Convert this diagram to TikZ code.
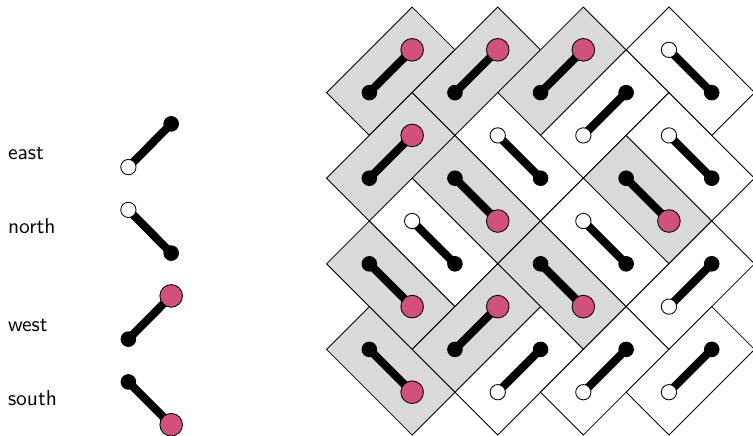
\documentclass[tikz,border=0pt]{standalone}
\usepackage{xcolor}
\usetikzlibrary{backgrounds}
\definecolor{dotpink}{HTML}{D1507D}
\definecolor{cellgray}{HTML}{D9D9D9}
\tikzset{
    cell/.style={draw, minimum width=1.98cm, minimum height=0.99cm, inner sep=0pt},
    cellon/.style={cell, fill=cellgray},
    celloff/.style={cell, fill=white},
    blackdot/.style={circle, draw, fill=black, minimum size=0.24cm, inner sep=0pt},
    whitedot/.style={circle, draw, fill=white, minimum size=0.25cm, inner sep=0pt},
    pinkdot/.style={circle, draw, fill=dotpink, minimum size=0.37cm, inner sep=0pt},
    bar/.style={line width=3.8pt},
    word/.style={anchor=base west, font=\sffamily}
}

\begin{document}
\begin{tikzpicture}[x=0.7cm, y=-0.7cm]
        \useasboundingbox (-7.63, -0.164) rectangle (9.964, 10);

        \node[word] at (-7.62, 3.57) (east) {east};
        \node[word] at (-7.62, 5.30) (north) {north};
        \node[word] at (-7.62, 7.57) (west) {west};
        \node[word] at (-7.62, 9.30) (south) {south};

        \node[whitedot] at (-4.63, 3.74) (eastw) {};
        \node[blackdot] at (-3.63, 2.73) (eastb) {};
        \node[whitedot] at (-4.63, 4.74) (northw) {};
        \node[blackdot] at (-3.63, 5.75) (northb) {};
        \node[blackdot] at (-4.63, 7.76) (westb) {};
        \node[pinkdot] at (-3.63, 6.75) (westp) {};
        \node[blackdot] at (-4.63, 8.76) (southb) {};
        \node[pinkdot] at (-3.63, 9.76) (southp) {};

        % dots
        \node[blackdot] at (1, 2) (black1) {};
        \node[pinkdot] at (2, 1) (pink1) {};
        \node[blackdot] at (3, 2) (black2) {};
        \node[pinkdot] at (4, 1) (pink2) {};
        \node[blackdot] at (5, 2) (black3) {};
        \node[pinkdot] at (6, 1) (pink3) {};
        \node[whitedot] at (8, 1) (white4) {};
        \node[blackdot] at (9, 2) (black4) {};
        \node[whitedot] at (6, 3) (white5) {};
        \node[blackdot] at (7, 2) (black5) {};
        \node[blackdot] at (1, 4) (black6) {};
        \node[pinkdot] at (2, 3) (pink6) {};
        \node[whitedot] at (4, 3) (white7) {};
        \node[blackdot] at (5, 4) (black7) {};
        \node[whitedot] at (8, 3) (white8) {};
        \node[blackdot] at (9, 4) (black8) {};
        \node[blackdot] at (3, 4) (black9) {};
        \node[pinkdot] at (4, 5) (pink9) {};
        \node[blackdot] at (7, 4) (black10) {};
        \node[pinkdot] at (8, 5) (pink10) {};
        \node[whitedot] at (2, 5) (white11) {};
        \node[blackdot] at (3, 6) (black11) {};
        \node[whitedot] at (6, 5) (white12) {};
        \node[blackdot] at (7, 6) (black12) {};
        \node[blackdot] at (1, 6) (black13) {};
        \node[pinkdot] at (2, 7) (pink13) {};
        \node[blackdot] at (5, 6) (black14) {};
        \node[pinkdot] at (6, 7) (pink14) {};
        \node[whitedot] at (8, 7) (white15) {};
        \node[blackdot] at (9, 6) (black15) {};
        \node[blackdot] at (3, 8) (black16) {};
        \node[pinkdot] at (4, 7) (pink16) {};
        \node[blackdot] at (1, 8) (black17) {};
        \node[pinkdot] at (2, 9) (pink17) {};
        \node[whitedot] at (4, 9) (white18) {};
        \node[blackdot] at (5, 8) (black18) {};
        \node[whitedot] at (6, 9) (white19) {};
        \node[blackdot] at (7, 8) (black19) {};
        \node[whitedot] at (8, 9) (white20) {};
        \node[blackdot] at (9, 8) (black20) {};

        \begin{scope}[on background layer]
        % cells
        \node[cellon, rotate=45] at (1.5, 1.5) (cell1) {};
        \node[cellon, rotate=45] at (3.5, 1.5) (cell2) {};
        \node[cellon, rotate=45] at (5.5, 1.5) (cell3) {};
        \node[celloff, rotate=-45] at (8.5, 1.5) (cell4) {};
        \node[celloff, rotate=45] at (6.5, 2.5) (cell5) {};
        \node[cellon, rotate=45] at (1.5, 3.5) (cell6) {};
        \node[celloff, rotate=-45] at (4.5, 3.5) (cell7) {};
        \node[celloff, rotate=-45] at (8.5, 3.5) (cell8) {};
        \node[cellon, rotate=-45] at (3.5, 4.5) (cell9) {};
        \node[cellon, rotate=-45] at (7.5, 4.5) (cell10) {};
        \node[celloff, rotate=-45] at (2.5, 5.5) (cell11) {};
        \node[celloff, rotate=-45] at (6.5, 5.5) (cell12) {};
        \node[cellon, rotate=-45] at (1.5, 6.5) (cell13) {};
        \node[cellon, rotate=-45] at (5.5, 6.5) (cell14) {};
        \node[celloff, rotate=45] at (8.5, 6.5) (cell15) {};
        \node[cellon, rotate=45] at (3.5, 7.5) (cell16) {};
        \node[cellon, rotate=-45] at (1.5, 8.5) (cell17) {};
        \node[celloff, rotate=45] at (4.5, 8.5) (cell18) {};
        \node[celloff, rotate=45] at (6.5, 8.5) (cell19) {};
        \node[celloff, rotate=45] at (8.5, 8.5) (cell20) {};

        % bars
        \draw[bar] (eastw.center) -- (eastb.center);
        \draw[bar] (northw.center) -- (northb.center);
        \draw[bar] (westb.center) -- (westp.center);
        \draw[bar] (southb.center) -- (southp.center);

        \draw[bar] (black1.center) -- (pink1.center);
        \draw[bar] (black2.center) -- (pink2.center);
        \draw[bar] (black3.center) -- (pink3.center);
        \draw[bar] (white4.center) -- (black4.center);
        \draw[bar] (white5.center) -- (black5.center);
        \draw[bar] (black6.center) -- (pink6.center);
        \draw[bar] (white7.center) -- (black7.center);
        \draw[bar] (white8.center) -- (black8.center);
        \draw[bar] (black9.center) -- (pink9.center);
        \draw[bar] (black10.center) -- (pink10.center);
        \draw[bar] (white11.center) -- (black11.center);
        \draw[bar] (white12.center) -- (black12.center);
        \draw[bar] (black13.center) -- (pink13.center);
        \draw[bar] (black14.center) -- (pink14.center);
        \draw[bar] (white15.center) -- (black15.center);
        \draw[bar] (black16.center) -- (pink16.center);
        \draw[bar] (black17.center) -- (pink17.center);
        \draw[bar] (white18.center) -- (black18.center);
        \draw[bar] (white19.center) -- (black19.center);
        \draw[bar] (white20.center) -- (black20.center);
        \end{scope}
    \end{tikzpicture}
\end{document}
